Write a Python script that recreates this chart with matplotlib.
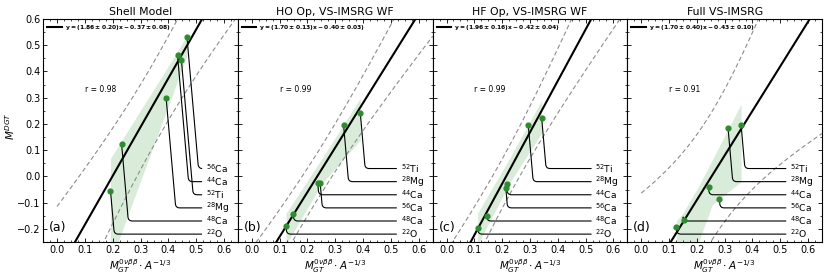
import numpy as np
import matplotlib
matplotlib.use("Agg")
import matplotlib.pyplot as plt
from matplotlib.ticker import MultipleLocator, AutoMinorLocator

# ---------------- data ----------------
titles = ["Shell Model", "HO Op, VS-IMSRG WF", "HF Op, VS-IMSRG WF", "Full VS-IMSRG"]
panel_tags = ["(a)", "(b)", "(c)", "(d)"]
nuclei = ["22O", "48Ca", "44Ca", "56Ca", "28Mg", "52Ti"]

x_a = [0.192, 0.232, 0.433, 0.467, 0.392, 0.447]
y_a = [-0.054, 0.123, 0.462, 0.531, 0.300, 0.443]
x_b = [0.123, 0.149, 0.237, 0.246, 0.330, 0.390]
y_b = [-0.189, -0.144, -0.024, -0.027, 0.196, 0.243]
x_c = [0.112, 0.144, 0.216, 0.213, 0.294, 0.342]
y_c = [-0.195, -0.150, -0.030, -0.043, 0.195, 0.224]
x_d = [0.126, 0.152, 0.242, 0.281, 0.312, 0.359]
y_d = [-0.192, -0.168, -0.040, -0.086, 0.186, 0.197]

slopes = [1.86, 1.70, 1.96, 1.70]
slope_errs = [0.20, 0.13, 0.16, 0.40]
intercepts = [-0.37, -0.40, -0.42, -0.43]
legend_texts = [
    r"$\mathbf{y = (1.86 \pm 0.20)x - 0.37 \pm 0.08)}$",
    r"$\mathbf{y = (1.70 \pm 0.13)x - 0.40 \pm 0.03)}$",
    r"$\mathbf{y = (1.96 \pm 0.16)x - 0.42 \pm 0.04)}$",
    r"$\mathbf{y = (1.70 \pm 0.40)x - 0.43 \pm 0.10)}$",
]
r_texts = ["r = 0.98", "r = 0.99", "r = 0.99", "r = 0.91"]

# confidence band outlines
band_x_a = [0.192, 0.25, 0.30, 0.35, 0.40, 0.43, 0.467]
band_hi_a = [0.069, 0.167, 0.252, 0.336, 0.421, 0.472, 0.54]
band_lo_a = [-0.33, -0.161, -0.018, 0.125, 0.268, 0.354, 0.46]
band_x_b = [0.123, 0.25, 0.39]
band_hi_b = [-0.141, 0.065, 0.298]
band_lo_b = [-0.261, -0.03, 0.138]
band_x_c = [0.112, 0.23, 0.342]
band_hi_c = [-0.14, 0.075, 0.29]
band_lo_c = [-0.26, -0.02, 0.165]
band_x_d = [0.126, 0.15, 0.21, 0.255, 0.30, 0.359]
band_hi_d = [-0.17, -0.14, -0.03, 0.062, 0.155, 0.276]
band_lo_d = [-0.48, -0.41, -0.24, -0.109, -0.07, -0.02]

# label heights (top to bottom)
label_levels = [0.03, -0.02, -0.07, -0.12, -0.17, -0.22]
label_x = 0.535

xs = [x_a, x_b, x_c, x_d]
ys = [y_a, y_b, y_c, y_d]
bands = [(band_x_a, band_lo_a, band_hi_a), (band_x_b, band_lo_b, band_hi_b),
         (band_x_c, band_lo_c, band_hi_c), (band_x_d, band_lo_d, band_hi_d)]

T_975_4 = 2.776  # Student t quantile, 4 dof


def nuc_label(n):
    mass = "".join(ch for ch in n if ch.isdigit())
    el = "".join(ch for ch in n if not ch.isdigit())
    return r"$^{%s}$%s" % (mass, el)


plt.rcParams.update({
    "xtick.direction": "in", "ytick.direction": "in",
    "xtick.top": True, "ytick.right": True,
    "xtick.minor.visible": True, "ytick.minor.visible": True,
    "xtick.labelsize": 7, "ytick.labelsize": 7,
    "xtick.major.size": 3, "ytick.major.size": 3,
    "xtick.minor.size": 1.5, "ytick.minor.size": 1.5,
    "xtick.major.width": 0.6, "ytick.major.width": 0.6,
    "xtick.minor.width": 0.5, "ytick.minor.width": 0.5,
    "axes.linewidth": 0.8,
    "mathtext.fontset": "dejavusans",
})

fig, axes = plt.subplots(1, 4, figsize=(8.3, 2.77), dpi=100, sharey=True)
fig.subplots_adjust(left=0.052, right=0.9904, top=0.9314, bottom=0.1264, wspace=0)

xgrid_full = np.linspace(-0.05, 0.65, 300)
xgrid_pi = np.linspace(0.0, 0.65, 300)

for i, ax in enumerate(axes):
    x = np.array(xs[i])
    y = np.array(ys[i])
    a, b = slopes[i], intercepts[i]

    # 95% prediction interval; residual scale from the quoted slope error
    n = len(x)
    xm = x.mean()
    sxx = ((x - xm) ** 2).sum()
    s = slope_errs[i] * np.sqrt(sxx)
    hw = T_975_4 * s * np.sqrt(1 + 1 / n + (xgrid_pi - xm) ** 2 / sxx)
    ypi = a * xgrid_pi + b
    ax.plot(xgrid_pi, ypi + hw, ls=(0, (4, 2.5)), color="#8c8c8c", lw=0.8)
    ax.plot(xgrid_pi, ypi - hw, ls=(0, (4, 2.5)), color="#8c8c8c", lw=0.8)

    bx, blo, bhi = bands[i]
    ax.fill_between(bx, blo, bhi, color="green", alpha=0.15, lw=0)

    ax.plot(xgrid_full, a * xgrid_full + b, color="k", lw=1.5, label=legend_texts[i])

    ax.scatter(x, y, s=12, color="#2e8b2e", zorder=5)

    order = np.argsort(-y)
    for lvl, k in zip(label_levels, order):
        ax.annotate(nuc_label(nuclei[k]), xy=(x[k], y[k]), xytext=(label_x, lvl),
                    ha="left", va="center", fontsize=6.7,
                    arrowprops=dict(arrowstyle="-", color="k", lw=0.8,
                                    shrinkA=1, shrinkB=0,
                                    connectionstyle="angle,angleA=0,angleB=95,rad=4"))

    ax.text(0.1, 0.33, r_texts[i], fontsize=5.5, ha="left", va="center")
    ax.text(0.03, 0.065, panel_tags[i], transform=ax.transAxes, fontsize=9,
            ha="left", va="center")

    ax.set_xlim(-0.05, 0.65)
    ax.set_ylim(-0.25, 0.6)
    ax.xaxis.set_major_locator(MultipleLocator(0.1))
    ax.xaxis.set_minor_locator(AutoMinorLocator(4))
    ax.yaxis.set_major_locator(MultipleLocator(0.1))
    ax.yaxis.set_minor_locator(AutoMinorLocator(2))
    ax.set_title(titles[i], fontsize=7.8, pad=3)
    ax.set_xlabel(r"$M_{GT}^{0\nu\beta\beta}\cdot A^{-1/3}$", fontsize=7.5, labelpad=2)
    ax.legend(loc="upper left", fontsize=4.3, frameon=False,
              handlelength=2.4, borderaxespad=0.3, handletextpad=0.5)
    ax.tick_params(axis="both", which="both", pad=2)

axes[0].set_ylabel(r"$M^{DGT}$", fontsize=7.5)
axes[0].yaxis.set_label_coords(-0.135, 0.52)

fig.savefig("out.png", dpi=100)
